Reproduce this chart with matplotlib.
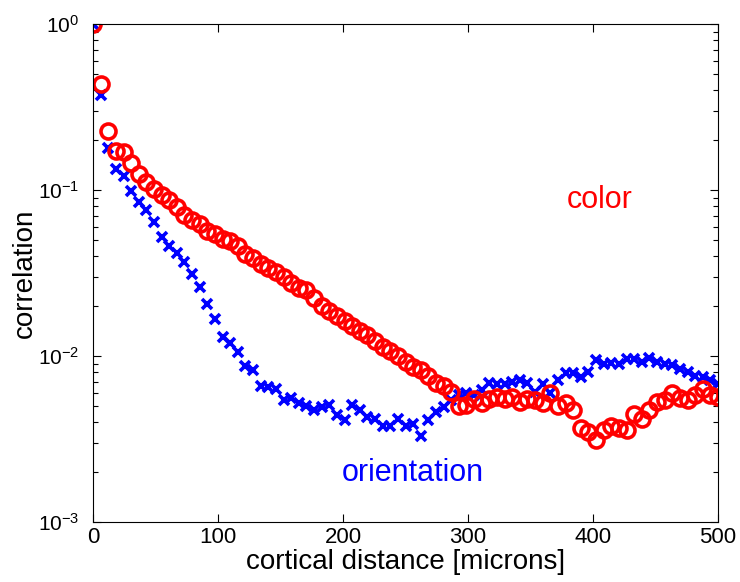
import numpy as np
import matplotlib
matplotlib.use("Agg")
import matplotlib.pyplot as plt

# cortical distance grid (microns), one sample per point
DIST = np.linspace(0, 500, 83)

# correlation of colour map vs distance (red circles)
COLOR_CORR = [
    1.0, 0.435, 0.227, 0.172, 0.169, 0.145, 0.125, 0.112, 0.101, 0.093,
    0.087, 0.079, 0.071, 0.066, 0.062, 0.057, 0.054, 0.051, 0.049, 0.046,
    0.041, 0.039, 0.036, 0.034, 0.032, 0.030, 0.0275, 0.0257, 0.0250, 0.0224,
    0.0200, 0.0187, 0.0174, 0.0162, 0.0152, 0.0141, 0.0134, 0.0123, 0.0113, 0.0107,
    0.0100, 0.0092, 0.0086, 0.0082, 0.0076, 0.0069, 0.0066, 0.0061, 0.0050, 0.0051,
    0.0055, 0.0052, 0.0055, 0.0057, 0.0055, 0.0057, 0.0053, 0.0055, 0.0054, 0.0052,
    0.0060, 0.0050, 0.0052, 0.0047, 0.0037, 0.0035, 0.0031, 0.0036, 0.0038, 0.0037,
    0.0036, 0.0045, 0.0042, 0.0047, 0.0053, 0.0054, 0.0060, 0.0056, 0.0054, 0.0058,
    0.0063, 0.0058, 0.0057,
]

# correlation of orientation map vs distance (blue crosses)
ORIENT_CORR = [
    1.0, 0.374, 0.178, 0.133, 0.121, 0.099, 0.085, 0.076, 0.064, 0.052,
    0.046, 0.042, 0.037, 0.031, 0.026, 0.0207, 0.0167, 0.0131, 0.0119, 0.0106,
    0.0087, 0.0082, 0.0066, 0.0065, 0.0063, 0.0054, 0.0056, 0.0052, 0.0050, 0.0047,
    0.0049, 0.0051, 0.0044, 0.0041, 0.0051, 0.0047, 0.0043, 0.0042, 0.0038, 0.0038,
    0.0042, 0.0038, 0.0039, 0.0033, 0.0041, 0.0046, 0.0049, 0.0054, 0.0058, 0.0060,
    0.0058, 0.0062, 0.0069, 0.0068, 0.0068, 0.0070, 0.0072, 0.0069, 0.0061, 0.0068,
    0.0060, 0.0072, 0.0079, 0.0079, 0.0075, 0.0080, 0.0094, 0.0090, 0.0091, 0.0090,
    0.0096, 0.0096, 0.0092, 0.0097, 0.0092, 0.0090, 0.0088, 0.0084, 0.0080, 0.0076,
    0.0075, 0.0072, 0.0068,
]

X_TICKS = [0, 100, 200, 300, 400, 500]

plt.rcParams["font.family"] = ["Liberation Sans", "DejaVu Sans"]


def main():
    fig = plt.figure(figsize=(7.4, 5.82), dpi=100)
    ax = fig.add_axes([0.1257, 0.1031, 0.8446, 0.8557])

    # orientation first so the colour circles sit on top (MATLAB look)
    ax.plot(DIST, ORIENT_CORR, linestyle="none", marker="x", color="#0000ff",
            markersize=6.5, markeredgewidth=2.6)
    ax.plot(DIST, COLOR_CORR, linestyle="none", marker="o", color="#ff0000",
            markerfacecolor="none", markersize=10.8, markeredgewidth=2.6)

    ax.set_yscale("log")
    ax.set_xlim(0, 500)
    ax.set_ylim(1e-3, 1)
    ax.set_xticks(X_TICKS)
    ax.tick_params(which="both", direction="in", top=True, right=True,
                   labelsize=16)
    ax.tick_params(axis="y", which="major", pad=10, labelsize=15)
    ax.tick_params(which="major", length=6, width=0.8)
    ax.tick_params(which="minor", length=3.5, width=0.8)
    for sp in ax.spines.values():
        sp.set_linewidth(0.8)

    ax.set_xlabel("cortical distance [microns]", fontsize=20, labelpad=1)
    ax.set_ylabel("correlation", fontsize=20, labelpad=0)

    ax.text(405, 0.087, "color", color="#ff0000", fontsize=22,
            ha="center", va="center")
    ax.text(256, 0.00197, "orientation", color="#0000ff", fontsize=22,
            ha="center", va="center")

    fig.savefig("out.png", dpi=100, facecolor="white")
    plt.close(fig)


if __name__ == "__main__":
    main()
